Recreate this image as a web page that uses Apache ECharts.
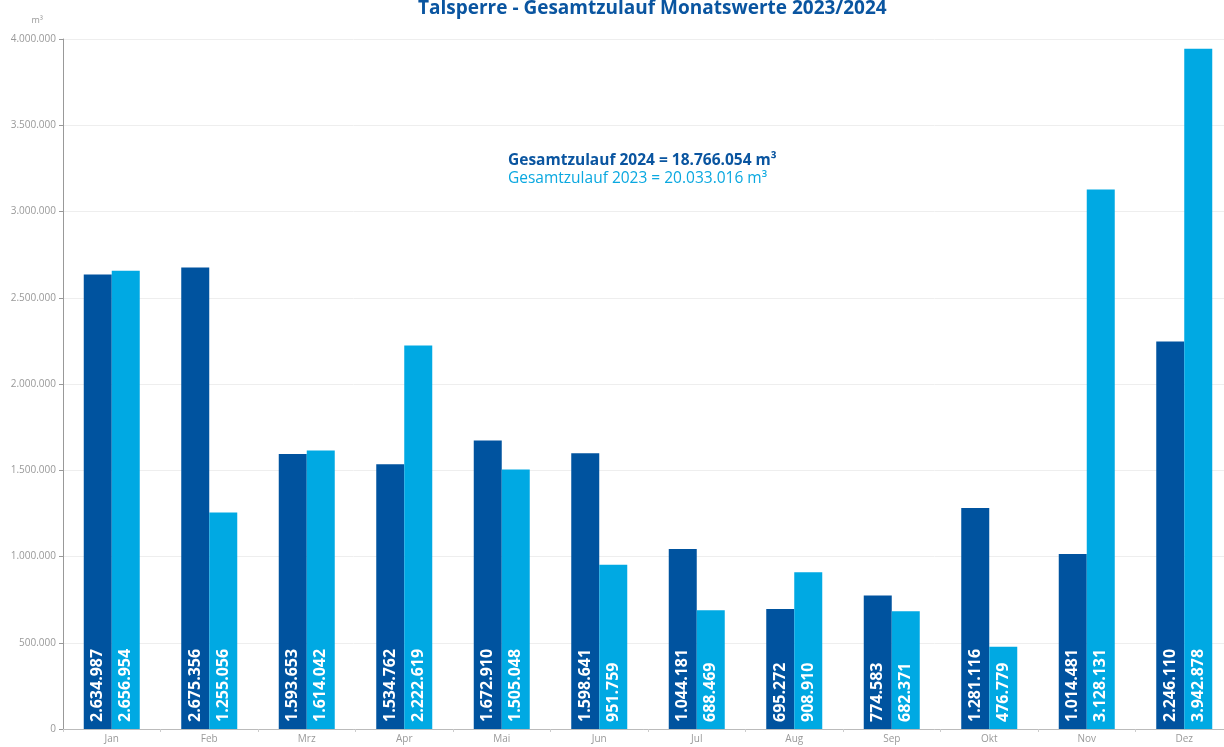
<!DOCTYPE html>
<html><head><meta charset="utf-8">
<script src="https://cdn.jsdelivr.net/npm/echarts@6/dist/echarts.min.js"></script>
<style>html,body{margin:0;padding:0;background:#fff}#c{width:1224px;height:747px}</style>
</head><body><div id="c"></div>
<script>
const months = ['Jan','Feb','Mrz','Apr','Mai','Jun','Jul','Aug','Sep','Okt','Nov','Dez'];
const values2024 = [2634987,2675356,1593653,1534762,1672910,1598641,1044181,695272,774583,1281116,1014481,2246110];
const values2023 = [2656954,1255056,1614042,2222619,1505048,951759,688469,908910,682371,476779,3128131,3942878];
const yTicks = {min:0, max:4000000, interval:500000};
const fmt = v => String(v).replace(/\B(?=(\d{3})+(?!\d))/g, '.');
const FONT = 'Open Sans';
const label = {
  show:true, position:'insideBottom', rotate:90, align:'left', verticalAlign:'middle',
  distance:7, color:'#fff', fontWeight:'bold', fontSize:16, fontFamily:FONT,
  formatter:p => fmt(p.value)
};
const chart = echarts.init(document.getElementById('c'));
chart.setOption({
  animation:false,
  title:[
    {text:'Talsperre - Gesamtzulauf Monatswerte 2023/2024', left:413, top:-6,
     textStyle:{color:'#0A55A0', fontSize:19, fontWeight:'bold', fontFamily:FONT}},
    {text:'Gesamtzulauf 2024 = 18.766.054 m³', left:503, top:148,
     textStyle:{color:'#0A55A0', fontSize:15.5, fontWeight:'bold', fontFamily:FONT}},
    {text:'Gesamtzulauf 2023 = 20.033.016 m³', left:503, top:166,
     textStyle:{color:'#0AA8E0', fontSize:15.5, fontWeight:'normal', fontFamily:FONT}}
  ],
  grid:{left:63, width:1170, top:39, height:690, containLabel:false, outerBoundsMode:'none'},
  xAxis:{type:'category', data:months,
    axisLine:{lineStyle:{color:'#bbb'}},
    axisTick:{show:true, length:3, lineStyle:{color:'#ccc'}},
    axisLabel:{color:'#999', fontSize:10, fontFamily:FONT, margin:5}},
  yAxis:{type:'value', min:yTicks.min, max:yTicks.max, interval:yTicks.interval,
    name:'m³', nameLocation:'end', nameGap:14,
    nameTextStyle:{color:'#999', fontSize:9, fontFamily:FONT, align:'right', padding:[0,20,0,0]},
    axisLine:{show:true, lineStyle:{color:'#999'}},
    axisTick:{show:true, length:4, lineStyle:{color:'#999'}},
    splitLine:{lineStyle:{color:'#eee'}},
    axisLabel:{color:'#999', fontSize:10, fontFamily:FONT, margin:7, formatter:v => fmt(v)}},
  series:[
    {name:'2024', type:'bar', data:values2024, barWidth:28, barGap:'0%',
     itemStyle:{color:'#00539F'}, label:label},
    {name:'2023', type:'bar', data:values2023, barWidth:28,
     itemStyle:{color:'#00A9E3'}, label:label}
  ]
});
</script></body></html>
